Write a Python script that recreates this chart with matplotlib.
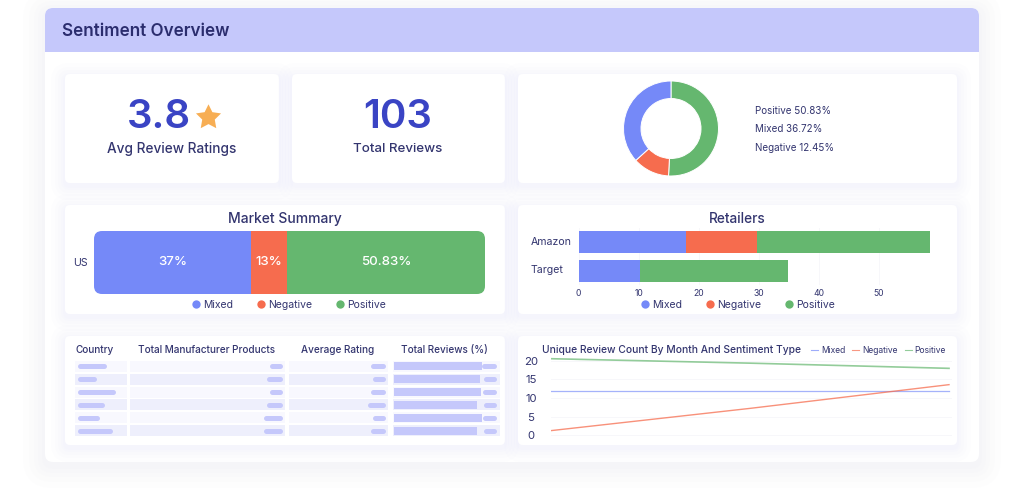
import matplotlib
matplotlib.use("Agg")
import matplotlib.pyplot as plt
from matplotlib.lines import Line2D
from matplotlib.patches import FancyBboxPatch, Rectangle
from matplotlib.path import Path
from matplotlib.transforms import ScaledTranslation

plt.rcParams['font.family'] = ['Inter', 'DejaVu Sans']

# data
sentiments = ["Mixed", "Negative", "Positive"]
donut_labels = ["Positive 50.83%", "Mixed 36.72%", "Negative 12.45%"]
donut_values = [50.83, 12.45, 36.72]
market_widths = [40.2, 9.2, 50.6]
market_labels = ["37%", "13%", "50.83%"]
retailers = ["Amazon", "Target"]
retail_mixed = [17.9, 10.2]
retail_negative = [11.8, 0]
retail_positive = [28.8, 24.6]
retail_ticks = [0, 10, 20, 30, 40, 50]
line_months = [0, 1, 2]
line_mixed = [12, 12, 12]
line_negative = [1.2, 7.2, 13.6]
line_positive = [20.6, 19.4, 18.0]
line_ticks = [0, 5, 10, 15, 20]
table_headers = ["Country", "Total Manufacturer Products", "Average Rating", "Total Reviews (%)"]
country_pills = [29, 19, 38, 27, 22, 35]
products_pills = [11, 14, 11, 14, 17, 17]
rating_pills = [13, 11, 13, 16, 11, 13]
review_bars = [88, 86, 87, 83, 88, 83]
review_pills = [13, 11, 12, 11, 12, 11]

BLUE = "#7589F8"
RED = "#F66C4E"
GREEN = "#65B76F"
colors = [BLUE, RED, GREEN]
INK = "#33356F"
BIG = "#3A44C4"
W, H = 1024, 488

fig = plt.figure(figsize=(W / 100, H / 100), dpi=100, facecolor="white")
page = fig.add_axes([0, 0, 1, 1])
page.set_xlim(0, W)
page.set_ylim(H, 0)
page.axis("off")


def box(x0, y0, x1, y1, r=5, **kw):
    return FancyBboxPatch((x0, y0), x1 - x0, y1 - y0,
                          boxstyle=f"round,pad=0,rounding_size={r}", linewidth=0, **kw)


def inset(x0, y0, x1, y1):
    a = fig.add_axes([x0 / W, 1 - y1 / H, (x1 - x0) / W, (y1 - y0) / H])
    a.patch.set_alpha(0)
    return a


def card(x0, y0, x1, y1):
    # soft shadow, a few stacked translucent boxes
    for grow in [14, 10, 7, 4, 2]:
        page.add_patch(box(x0 - grow, y0 - grow + 3, x1 + grow, y1 + grow + 3, r=5 + grow,
                           facecolor="#E3E6FC", alpha=0.07))
    page.add_patch(box(x0, y0, x1, y1, r=5, facecolor="white"))


# outer panel
for grow in [22, 16, 11, 7, 3]:
    page.add_patch(box(45 - grow, 8 - grow + 4, 979 + grow, 462 + grow + 4, r=8 + grow,
                       facecolor="#E9E9F0", alpha=0.08))
page.add_patch(box(45, 8, 979, 462, r=8, facecolor="white"))
head = box(45, 8, 979, 80, r=8, facecolor="#C5C8FB")
page.add_patch(head)
head.set_clip_path(Rectangle((45, 8), 934, 44, transform=page.transData))
page.text(62, 31, "Sentiment Overview", fontsize=12.3, fontweight="semibold", color="#2B2D6E", va="center")

for c in [(65, 74, 279, 183), (292, 74, 505, 183), (518, 74, 957, 183),
          (65, 205, 505, 314), (518, 205, 957, 314),
          (65, 336, 505, 445), (518, 336, 957, 445)]:
    card(*c)

# KPI cards
star = Path.unit_regular_star(5, innerCircle=0.5)
page.text(159, 118, "3.8", fontsize=29, fontweight="semibold", color=BIG, ha="center", va="center")
page.plot([208], [116.5], marker=star, markersize=19, color="#F7AE54", markeredgewidth=0)
page.text(172, 149, "Avg Review Ratings", fontsize=9.8, color=INK, ha="center", va="center", fontweight="medium")
page.text(398, 118, "103", fontsize=29, fontweight="semibold", color=BIG, ha="center", va="center")
page.text(398, 149, "Total Reviews", fontsize=9.6, color=INK, ha="center", va="center", fontweight="medium")

# donut
ax_donut = inset(621, 78.5, 721, 178.5)
ax_donut.pie(donut_values, colors=[GREEN, RED, BLUE], startangle=90, counterclock=False, radius=0.95,
             wedgeprops=dict(width=0.35, edgecolor="white", linewidth=0.7))
ax_donut.set_xlim(-1, 1)
ax_donut.set_ylim(-1, 1)
for i, label in enumerate(donut_labels):
    page.text(755, 111 + i * 18.4, label, fontsize=7.1, color=INK, va="center")

# market summary
ax_market = inset(94, 231, 485, 294)
clip = box(94, 231, 485, 294, r=8, transform=page.transData)
left = 0
for width, label, color in zip(market_widths, market_labels, colors):
    bars = ax_market.barh([0], [width], left=left, height=1, color=color, linewidth=0)
    bars[0].set_clip_path(clip)
    ax_market.text(left + width / 2, 0, label, color="white", fontsize=9.6, fontweight="medium",
                   ha="center", va="center")
    left += width
ax_market.set_xlim(0, 100)
ax_market.set_ylim(-0.5, 0.5)
ax_market.set_yticks([0], ["US"], fontsize=7.6, color=INK)
ax_market.set_xticks([])
ax_market.tick_params(length=0, pad=4.5)
for s in ax_market.spines.values():
    s.set_visible(False)
page.text(285, 219, "Market Summary", fontsize=10, color=INK, ha="center", va="center", fontweight="medium")

# retailers
ax_ret = inset(578, 228, 940, 285)
ax_ret.barh(retailers, retail_mixed, height=0.78, color=BLUE, linewidth=0, zorder=3)
ax_ret.barh(retailers, retail_negative, left=retail_mixed, height=0.78, color=RED, linewidth=0, zorder=3)
ret_left = [a + b for a, b in zip(retail_mixed, retail_negative)]
ax_ret.barh(retailers, retail_positive, left=ret_left, height=0.78, color=GREEN, linewidth=0, zorder=3)
ax_ret.set_xlim(-0.1, 60.2)
ax_ret.set_ylim(1.5, -0.5)
ax_ret.set_xticks(retail_ticks)
ax_ret.tick_params(axis="x", labelsize=6.2, labelcolor=INK, length=0, pad=3)
ax_ret.tick_params(axis="y", labelsize=7.6, labelcolor=INK, length=0, pad=34)
for lab in ax_ret.get_yticklabels():
    lab.set_ha("left")
    lab.set_transform(lab.get_transform() + ScaledTranslation(0, 0.015, fig.dpi_scale_trans))
ax_ret.grid(axis="x", color="#F7F7FA", linewidth=0.7, zorder=0)
for s in ax_ret.spines.values():
    s.set_visible(False)
page.text(737, 219, "Retailers", fontsize=9.8, color=INK, ha="center", va="center", fontweight="medium")

# dot legends under both bar charts
dots = [Line2D([], [], linestyle="", marker="o", markersize=6, markeredgewidth=0, color=c) for c in colors]
for anchor_x in [289, 738]:
    page.legend(dots, sentiments, ncol=3, frameon=False, fontsize=7.5, labelcolor=INK, loc="center",
                bbox_to_anchor=(anchor_x, 304.5), bbox_transform=page.transData, handlelength=0.9,
                handletextpad=0.25, columnspacing=2.2, borderpad=0, borderaxespad=0)
    page.add_artist(page.get_legend())

# table
for name, x in zip(table_headers, [75, 138, 301, 401]):
    page.text(x, 350, name, fontsize=7.2, color=INK, va="center", fontweight="medium")
ax_tab = inset(74, 360, 500, 437)
ax_tab.set_xlim(74, 500)
ax_tab.set_ylim(5.5, -0.5)
ax_tab.axis("off")
pill = dict(color="#C5C8FB", linewidth=3.6, solid_capstyle="round")
for row in range(6):
    shade = "#F8F8FE" if row % 2 == 0 else "#EEEFFC"
    for x0, x1 in [(74.7, 126.7), (129.7, 285), (289, 388), (393, 500)]:
        ax_tab.barh(row, x1 - x0, left=x0, height=0.86, color=shade, linewidth=0)
    ax_tab.plot([79.5, 74.5 + country_pills[row]], [row, row], **pill)
    ax_tab.plot([283 - products_pills[row], 280.2], [row, row], **pill)
    ax_tab.plot([385.5 - rating_pills[row], 382.8], [row, row], **pill)
    ax_tab.barh(row, review_bars[row], left=394, height=0.62, color="#C5C8FB", linewidth=0)
    ax_tab.plot([497 - review_pills[row], 494.2], [row, row], **pill)

# line chart
ax_line = inset(551, 355, 952, 441)
ax_line.plot(line_months, line_mixed, color=BLUE, linewidth=0.9, alpha=0.65, zorder=3)
ax_line.plot(line_months, line_negative, color=RED, linewidth=1.0, alpha=0.75, zorder=3)
ax_line.plot(line_months, line_positive, color=GREEN, linewidth=1.2, alpha=0.7, zorder=3)
ax_line.set_xlim(0, 2.015)
ax_line.set_ylim(-1.6, 21.6)
ax_line.set_yticks(line_ticks)
ax_line.set_xticks([])
ax_line.tick_params(axis="y", labelsize=8.2, labelcolor=INK, length=0, pad=14.4)
for lab in ax_line.get_yticklabels():
    lab.set_ha("center")
ax_line.grid(axis="y", color="#F7F7FA", linewidth=0.7)
for s in ax_line.spines.values():
    s.set_visible(False)
page.text(542, 350, "Unique Review Count By Month And Sentiment Type", fontsize=7.4, color=INK, va="center", fontweight="medium")
handles = [Line2D([], [], color=c, linewidth=0.8, alpha=0.7) for c in colors]
page.legend(handles, sentiments, ncol=3, frameon=False, fontsize=6.1, labelcolor=INK, loc="center",
            bbox_to_anchor=(878.5, 350.5), bbox_transform=page.transData, handlelength=0.85,
            handletextpad=0.35, columnspacing=0.8, borderpad=0, borderaxespad=0)

fig.savefig("out.png", dpi=100)
